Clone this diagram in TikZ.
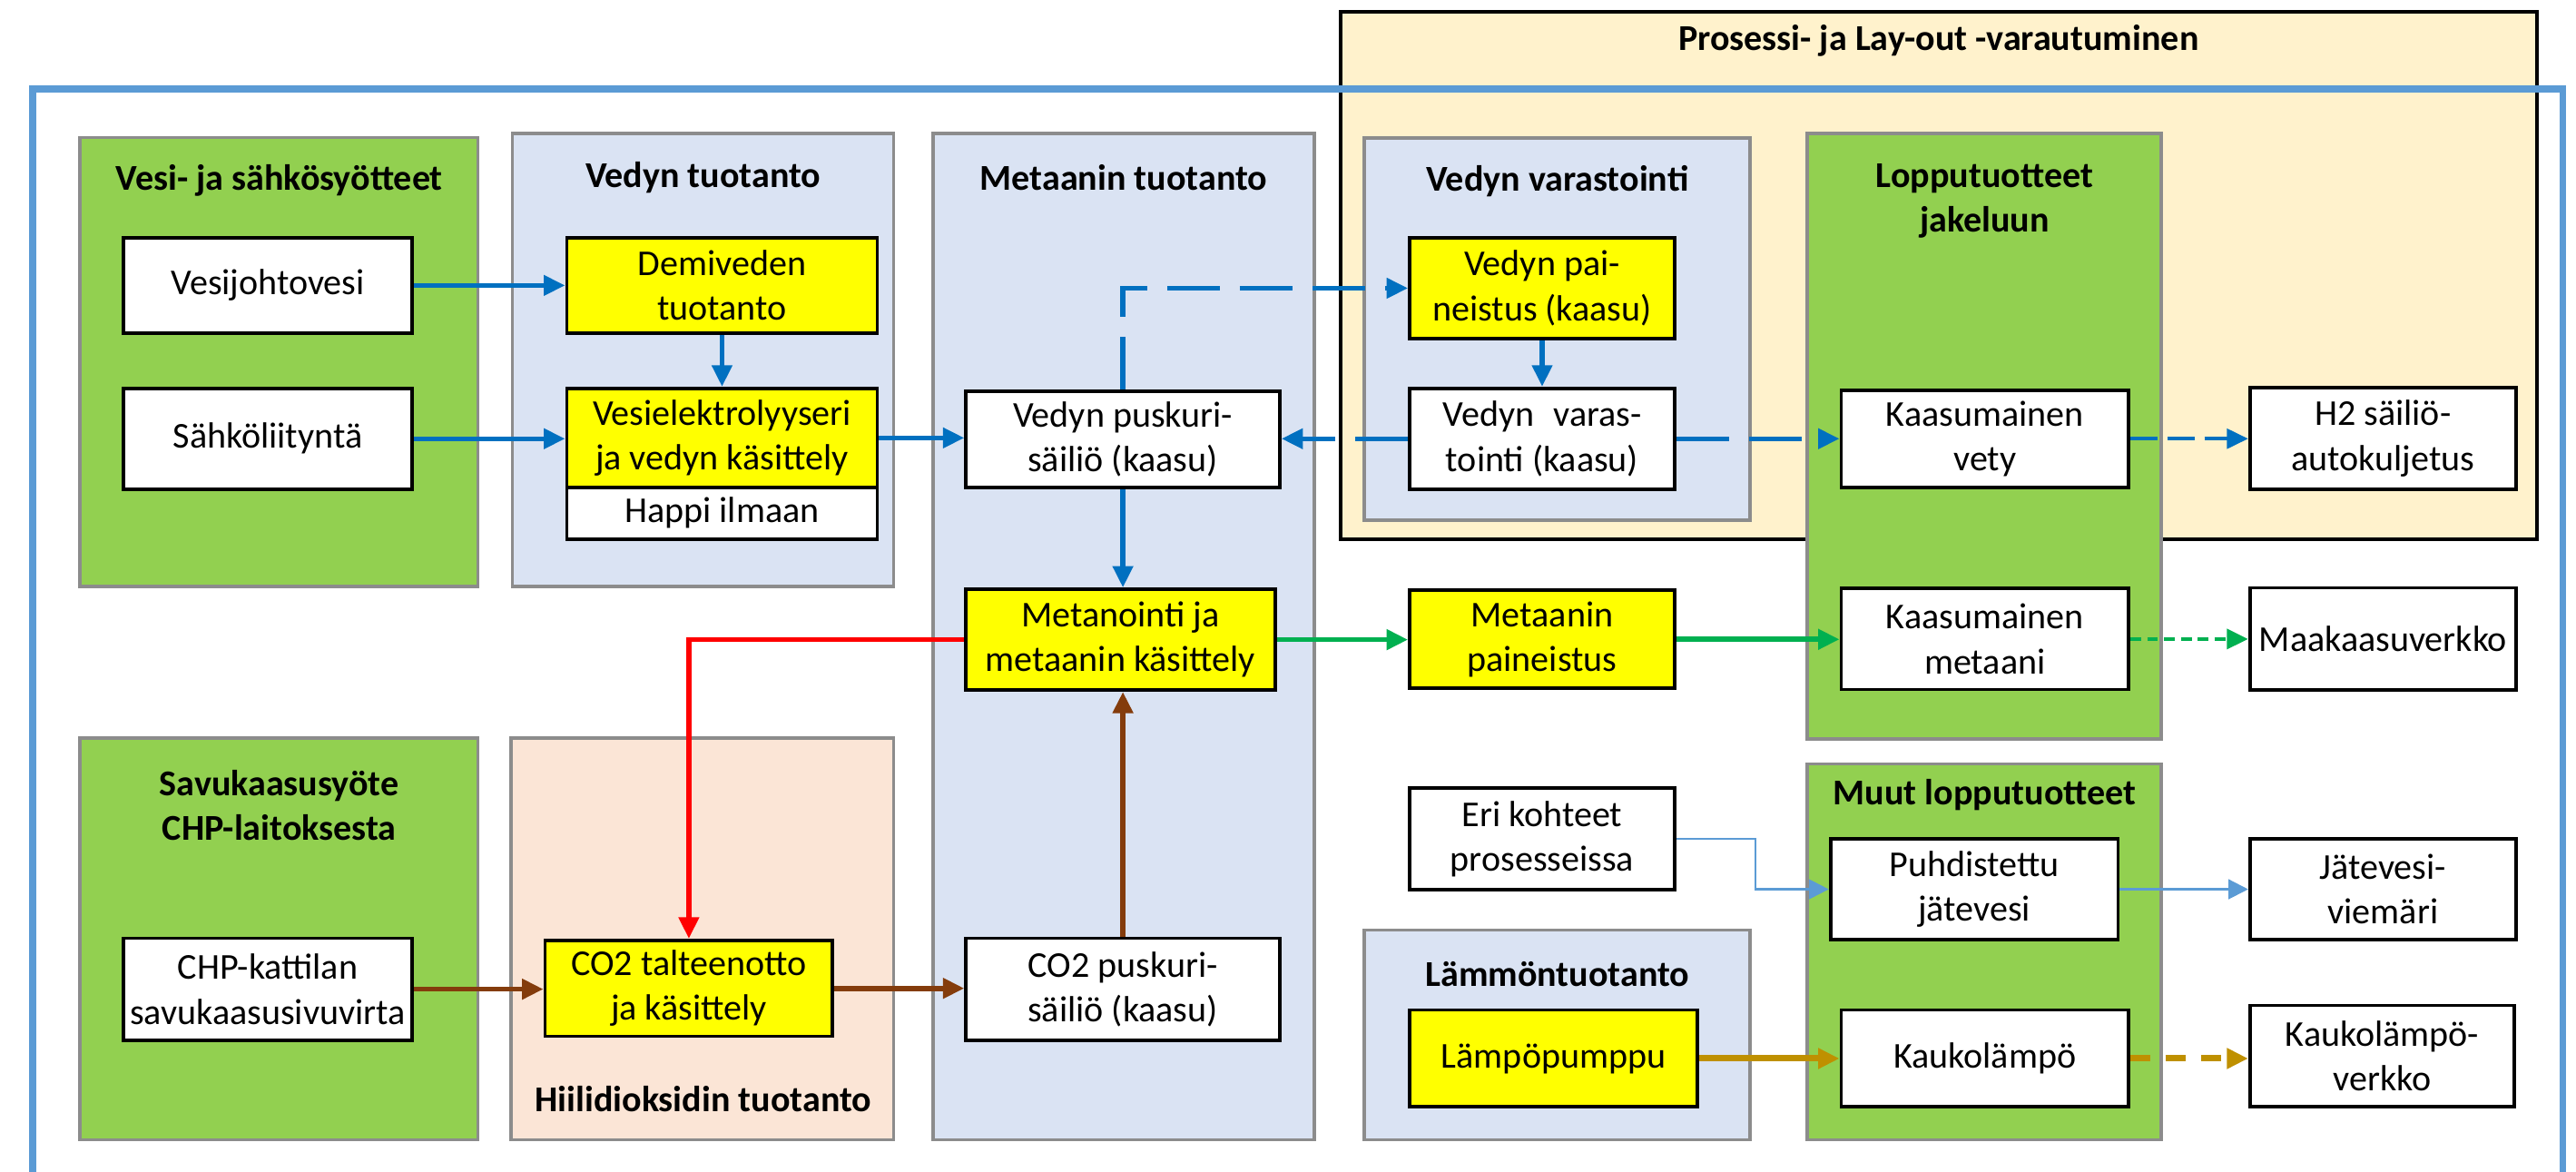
\documentclass[tikz,border=0pt]{standalone}
\usepackage{fontspec}
\setmainfont{Carlito}
\usetikzlibrary{arrows.meta,calc}
\definecolor{cgreen}{HTML}{92D050}
\definecolor{cblue}{HTML}{DAE3F3}
\definecolor{cpeach}{HTML}{FBE5D6}
\definecolor{corange}{HTML}{FFF2CC}
\definecolor{cgrey}{HTML}{8C8C8C}
\definecolor{ablue}{HTML}{0070C0}
\definecolor{fblue}{HTML}{5B9BD5}
\definecolor{agreen}{HTML}{00B050}
\definecolor{agold}{HTML}{BF9000}
\definecolor{abrown}{HTML}{843C0C}
\definecolor{cyellow}{HTML}{FFFF00}
\newcommand\fsz{\fontsize{12.6}{15.5}\selectfont}
\begin{document}
\begin{tikzpicture}[x=0.02cm,y=-0.02cm,
  cont/.style={draw=cgrey, line width=1.1pt},
  ttl/.style={font=\fsz\bfseries, align=center, inner sep=0pt},
  box/.style={draw=black, line width=1.2pt, fill=white, inner sep=0pt, align=center, font=\fsz},
  ybox/.style={box, fill=cyellow},
  sz/.style 2 args={minimum width=#1*0.02cm, minimum height=#2*0.02cm},
  tip/.style={-{Triangle[length=0.26cm,width=0.24cm]}},
  bl/.style={tip, draw=ablue, line width=1.7pt},
  bldash/.style={bl, dash pattern=on 0.64cm off 0.245cm},
  bldash2/.style={tip, draw=ablue, line width=1.25pt, dash pattern=on 0.33cm off 0.12cm},
  rd/.style={tip, draw=red, line width=1.7pt},
  br/.style={tip, draw=abrown, line width=1.8pt},
  gr/.style={tip, draw=agreen, line width=1.8pt},
  grdash/.style={tip, draw=agreen, line width=1.45pt, dash pattern=on 0.13cm off 0.075cm},
  thin/.style={-{Triangle[length=0.24cm,width=0.24cm]}, draw=fblue, line width=0.7pt},
  gd/.style={tip, draw=agold, line width=2.2pt},
  gddash/.style={gd, dash pattern=on 0.24cm off 0.19cm}
]
\useasboundingbox (0,0) rectangle (1568,713);
\fill[white] (0,0) rectangle (1568,713);

% process / layout box
\filldraw[fill=corange, draw=black, line width=1.25pt] (816,7.3) rectangle (1544,328);
\node[ttl] (tproc) at (1180,25) {Prosessi- ja Lay-out -varautuminen};

% outer blue frame
\draw[draw=fblue, line width=2.4pt] (20,713) -- (20,54) -- (1560,54) -- (1560,713);

% containers
\filldraw[cont, fill=cgreen] (48.5,83.6) rectangle (291,357);
\filldraw[cont, fill=cblue] (312,81.3) rectangle (544,357);
\filldraw[cont, fill=cblue] (568,81.3) rectangle (800,693.7);
\filldraw[cont, fill=cblue] (830.5,84) rectangle (1065.3,316.5);
\filldraw[cont, fill=cgreen] (1100,81.3) rectangle (1315.6,449.8);
\filldraw[cont, fill=cgreen] (48.5,449.3) rectangle (291,693.7);
\filldraw[cont, fill=cpeach] (311,449.3) rectangle (544,693.7);
\filldraw[cont, fill=cblue] (830.5,566) rectangle (1065.3,693.7);
\filldraw[cont, fill=cgreen] (1100,465) rectangle (1315.6,693.7);

% container titles
\node[ttl] (t1) at (170,110) {Vesi- ja sähkösyötteet};
\node[ttl] (t2) at (428,108) {Vedyn tuotanto};
\node[ttl] (t3) at (684,108) {Metaanin tuotanto};
\node[ttl] (t4) at (948,110) {Vedyn varastointi};
\node[ttl] (t5) at (1208,122.4) {Lopputuotteet\\jakeluun};
\node[ttl] (t6) at (170,490) {Savukaasusyöte\\CHP-laitoksesta};
\node[ttl] (t7) at (428,669) {Hiilidioksidin tuotanto};
\node[ttl] (t8) at (948,593) {Lämmöntuotanto};
\node[ttl] (t9) at (1208,484) {Muut lopputuotteet};

% nodes
\node[box, sz={176}{58}] (vesijohto) at (163,173.7) {Vesijohtovesi};
\node[box, sz={176}{61.4}] (sahko) at (163,267) {Sähköliityntä};
\node[ybox, sz={189}{58}] (demi) at (439.5,173.7) {Demiveden\\tuotanto};
\node[ybox, sz={189}{60.3}] (elektro) at (439.5,266.5) {Vesielektrolyyseri\\ja vedyn käsittely};
\node[box, sz={189}{31.4}] (happi) at (439.5,312.3) {Happi ilmaan};
\node[box, sz={191}{58.6}] (puskuri) at (683.5,267.3) {Vedyn puskuri-\\säiliö (kaasu)};
\node[ybox, sz={188.5}{61.4}] (metanointi) at (682,389.3) {Metanointi ja\\metaanin käsittely};
\node[box, sz={176}{62}] (chp) at (163,602) {CHP-kattilan\\savukaasusivuvirta};
\node[ybox, sz={175}{58.4}] (co2t) at (419.3,601.5) {CO2 talteenotto\\ja käsittely};
\node[box, sz={191}{62}] (co2p) at (683.5,602) {CO2 puskuri-\\säiliö (kaasu)};
\node[ybox, sz={161.3}{61.3}] (paineistus) at (938.7,175.4) {Vedyn pai-\\neistus (kaasu)};
\node[box, sz={161.3}{61.4}] (varastointi) at (938.7,267) {Vedyn\hspace{0.3em} varas-\\tointi (kaasu)};
\node[box, sz={175}{59}] (kvety) at (1208.2,267) {Kaasumainen\\vety};
\node[box, sz={162}{61.7}] (h2) at (1450.5,266.9) {H2 säiliö-\\autokuljetus};
\node[ybox, sz={161.3}{59.6}] (mpaineistus) at (938.7,389.1) {Metaanin\\paineistus};
\node[box, sz={175}{61.4}] (kmetaani) at (1208.2,388.9) {Kaasumainen\\metaani};
\node[box, sz={162}{62.3}] (maakaasu) at (1450.5,388.9) {Maakaasuverkko};
\node[box, sz={161.3}{62}] (eri) at (938.7,510.5) {Eri kohteet\\prosesseissa};
\node[box, sz={175}{61.3}] (puhd) at (1201.7,541.2) {Puhdistettu\\jätevesi};
\node[box, sz={162}{61.3}] (jatevesi) at (1450.5,541.2) {Jätevesi-\\viemäri};
\node[ybox, sz={175.3}{59}] (lampo) at (945.7,644.2) {Lämpöpumppu};
\node[box, sz={175}{59}] (kauko) at (1208.2,644.2) {Kaukolämpö};
\node[box, sz={161}{61.8}] (kaukoverkko) at (1450,642.8) {Kaukolämpö-\\verkko};

% connectors
\draw[bl] (vesijohto.east) -- (demi.west);
\draw[bl] (sahko.east) -- (sahko.east -| elektro.west);
\draw[bl] (demi.south) -- (elektro.north);
\draw[bl] (elektro.east) -- (elektro.east -| puskuri.west);
\draw[bldash] (puskuri.north) |- (paineistus.west);
\draw[bl] (paineistus.south) -- (varastointi.north);
\draw[bldash] (varastointi.west) -- (varastointi.west -| puskuri.east);
\draw[bldash] (varastointi.east) -- (kvety.west);
\draw[bldash2] (kvety.east) -- (kvety.east -| h2.west);
\draw[bl] (puskuri.south) -- (puskuri.south |- metanointi.north);
\draw[rd] (metanointi.west) -| (co2t.north);
\draw[br] (chp.east) -- (chp.east -| co2t.west);
\draw[br] (co2t.east) -- (co2t.east -| co2p.west);
\draw[br] (co2p.north) -- (co2p.north |- metanointi.south);
\draw[gr] (metanointi.east) -- (metanointi.east -| mpaineistus.west);
\draw[gr] (mpaineistus.east) -- (mpaineistus.east -| kmetaani.west);
\draw[grdash] (kmetaani.east) -- (kmetaani.east -| maakaasu.west);
\draw[thin] (eri.east) -- ++(48,0) |- (puhd.west);
\draw[thin] (puhd.east) -- (jatevesi.west);
\draw[gd] (lampo.east) -- (kauko.west);
\draw[gddash] (kauko.east) -- (kauko.east -| kaukoverkko.west);
\end{tikzpicture}
\end{document}
